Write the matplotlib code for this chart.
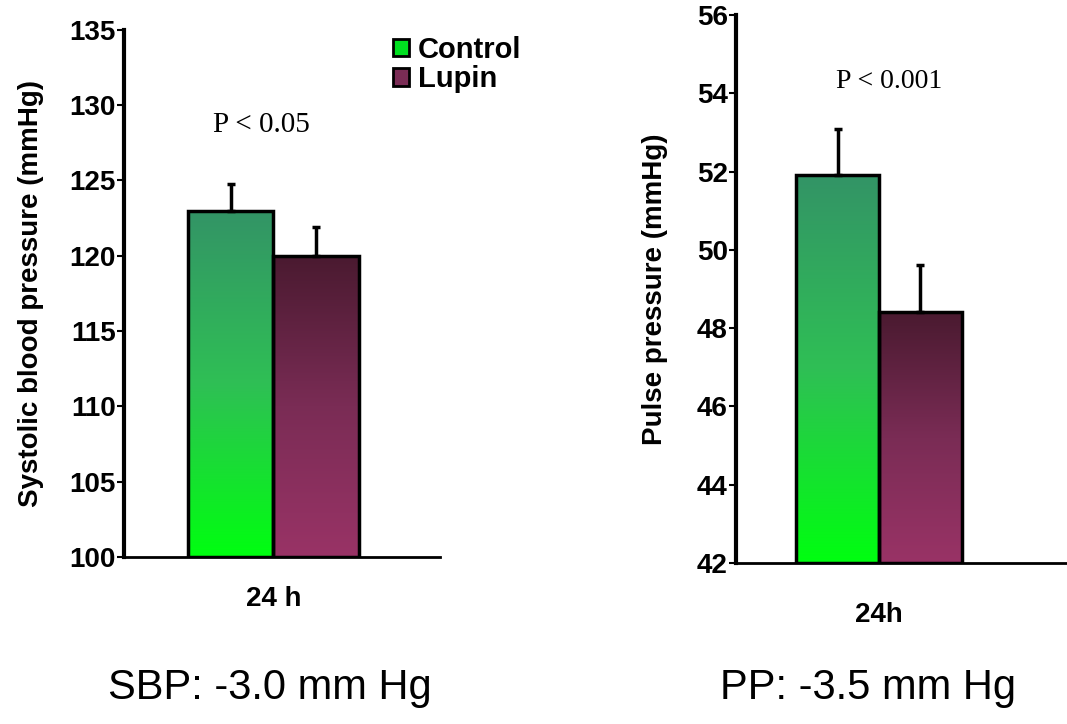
import numpy as np
import matplotlib.pyplot as plt
from matplotlib.colors import LinearSegmentedColormap
from matplotlib.patches import Patch

# data
groups = ['Control', 'Lupin']
sbp_mean = [123.0, 120.0]
sbp_err = [1.8, 1.9]
pp_mean = [51.9, 48.4]
pp_err = [1.2, 1.2]

sbp_ticks = [100, 105, 110, 115, 120, 125, 130, 135]
pp_ticks = [42, 44, 46, 48, 50, 52, 54, 56]

green_cmap = LinearSegmentedColormap.from_list('g', ['#00ff10', '#2fbf55', '#339466'])
lupin_cmap = LinearSegmentedColormap.from_list('l', ['#993366', '#7a2c55', '#4a1a30'])
cmaps = [green_cmap, lupin_cmap]

plt.rcParams['font.family'] = 'Liberation Sans'

fig = plt.figure(figsize=(10.67, 7.24), dpi=100)
ax1 = fig.add_axes([0.1162, 0.2307, 0.296, 0.728])
ax2 = fig.add_axes([0.6898, 0.2224, 0.310, 0.7569])


def draw_panel(ax, means, errs, ymin, ymax, ticks, xlabel, xlim, xpos, width, xpad):
    grad = np.linspace(0, 1, 256).reshape(-1, 1)
    for i, (m, e) in enumerate(zip(means, errs)):
        bars = ax.bar(xpos[i], m - ymin, width, bottom=ymin, facecolor='none',
                      edgecolor='black', linewidth=2.5, zorder=3)
        bar = bars[0]
        # vertical gradient fill clipped to the bar
        im = ax.imshow(grad, extent=[xpos[i] - width / 2, xpos[i] + width / 2, ymin, m],
                       origin='lower', aspect='auto', cmap=cmaps[i], zorder=2)
        im.set_clip_path(bar)
        ax.errorbar(xpos[i], m, yerr=[[0], [e]], fmt='none', ecolor='black',
                    elinewidth=2.5, capsize=3, capthick=2.5, zorder=4)
    ax.set_xlim(*xlim)
    ax.set_ylim(ymin, ymax)
    ax.set_yticks(ticks)
    ax.set_yticklabels([str(t) for t in ticks], fontsize=20, fontweight='bold')
    ax.set_xticks([sum(xpos) / 2])
    ax.set_xticklabels([xlabel], fontsize=20, fontweight='bold')
    ax.tick_params(axis='x', length=0, pad=xpad)
    ax.tick_params(axis='y', length=5, width=1.5, direction='out', pad=1)
    ax.spines['top'].set_visible(False)
    ax.spines['right'].set_visible(False)
    ax.spines['left'].set_linewidth(3)
    ax.spines['bottom'].set_linewidth(2)


draw_panel(ax1, sbp_mean, sbp_err, 100, 135, sbp_ticks, '24 h',
           (0, 3.7), [1.25, 2.25], 1.0, 21)
ax1.set_ylabel('Systolic blood pressure (mmHg)', fontsize=20, fontweight='bold', labelpad=18)
ax1.text(1.615, 128.7, 'P < 0.05', fontsize=21, family='Liberation Serif', ha='center', va='center')

draw_panel(ax2, pp_mean, pp_err, 42, 56, pp_ticks, '24h',
           (0, 4.0), [1.23, 2.23], 1.0, 28)
ax2.set_ylabel('Pulse pressure (mmHg)', fontsize=20, fontweight='bold', labelpad=21)
ax2.text(1.85, 54.3, 'P < 0.001', fontsize=20, family='Liberation Serif', ha='center', va='center')

handles = [Patch(facecolor='#00e020', edgecolor='black', linewidth=2),
           Patch(facecolor='#7a2c55', edgecolor='black', linewidth=2)]
fig.legend(handles, groups, loc='upper left', bbox_to_anchor=(0.349, 0.979),
           frameon=False, prop={'weight': 'bold', 'size': 21},
           handlelength=0.55, handleheight=0.55, handletextpad=0.3, labelspacing=0.05,
           borderpad=0.2)

fig.text(270 / 1067, 1 - 688 / 724, 'SBP: -3.0 mm Hg', fontsize=30, ha='center', va='center')
fig.text(868 / 1067, 1 - 688 / 724, 'PP: -3.5 mm Hg', fontsize=30, ha='center', va='center')

fig.savefig('out.png', dpi=100)
